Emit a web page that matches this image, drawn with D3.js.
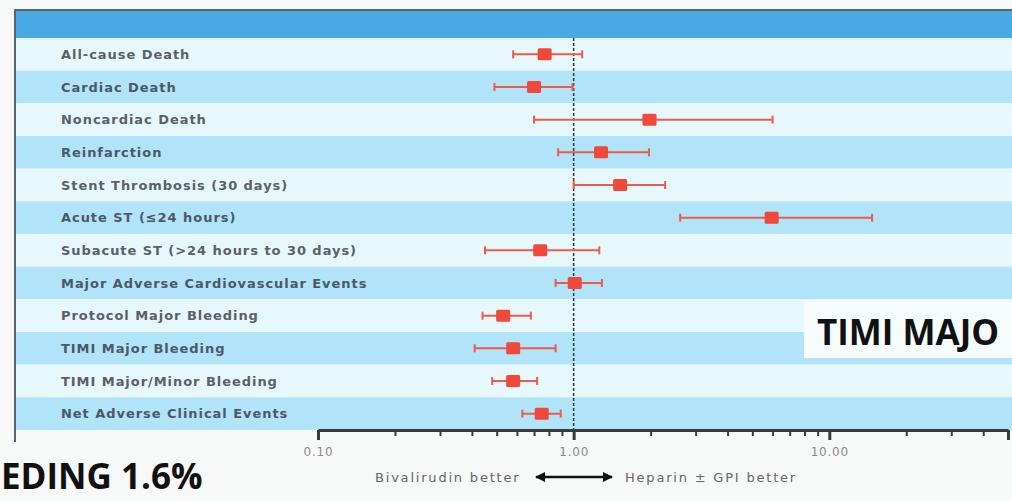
<!DOCTYPE html>
<html>
<head>
<meta charset="utf-8">
<script src="https://cdn.jsdelivr.net/npm/d3@7"></script>
<style>
  body { margin: 0; background: #f7f8f8; }
  svg { display: block; }
</style>
</head>
<body>
<div id="chart"></div>
<script>
// forest plot data (hazard ratio, 95% CI)
var categories = [
    "All-cause Death",
    "Cardiac Death",
    "Noncardiac Death",
    "Reinfarction",
    "Stent Thrombosis (30 days)",
    "Acute ST (\u226424 hours)",
    "Subacute ST (>24 hours to 30 days)",
    "Major Adverse Cardiovascular Events",
    "Protocol Major Bleeding",
    "TIMI Major Bleeding",
    "TIMI Major/Minor Bleeding",
    "Net Adverse Clinical Events"
];
var ratio = [0.77, 0.70, 1.98, 1.28, 1.52, 5.95, 0.74, 1.01, 0.53, 0.58, 0.58, 0.75];
var lower = [0.58, 0.49, 0.70, 0.87, 1.00, 2.61, 0.45, 0.85, 0.44, 0.41, 0.48, 0.63];
var upper = [1.08, 0.99, 6.00, 1.97, 2.28, 14.7, 1.26, 1.29, 0.68, 0.85, 0.72, 0.89];
var tickValues = [0.1, 0.2, 0.3, 0.4, 0.5, 0.6, 0.7, 0.8, 0.9, 1, 2, 3, 4, 5, 6, 7, 8, 9, 10, 20, 30, 40, 50];
var majorTicks = [0.1, 1, 10, 50];
var tickLabels = { 0.1: "0.10", 1: "1.00", 10: "10.00" };

var rows = categories.map(function (c, i) {
    return { key: c, ratio: ratio[i], lower: lower[i], upper: upper[i], i: i };
});

var width = 1012, height = 501;
var svg = d3.select("#chart").append("svg")
    .attr("width", width)
    .attr("height", height);

var x = d3.scaleLog().domain([0.1, 50]).range([318, 1008]);
var y = d3.scaleBand().domain(categories).range([38, 430]).padding(0);

// panel background + header
svg.append("rect")
    .attr("x", 15).attr("y", 10).attr("width", width - 15).attr("height", 28)
    .attr("fill", "#48a9e4");

svg.selectAll(".row")
    .data(rows)
    .enter().append("rect")
    .attr("class", "row")
    .attr("x", 15)
    .attr("y", function (d) { return y(d.key); })
    .attr("width", width - 15)
    .attr("height", y.bandwidth())
    .attr("fill", function (d) { return d.i % 2 === 0 ? "#e7f8fc" : "#b1e4f8"; });

// panel borders
svg.append("line")
    .attr("x1", 14).attr("x2", width).attr("y1", 10).attr("y2", 10)
    .attr("stroke", "#5a646c").attr("stroke-width", 2);
svg.append("line")
    .attr("x1", 15).attr("x2", 15).attr("y1", 10).attr("y2", 442)
    .attr("stroke", "#5a646c").attr("stroke-width", 2);

// labels
svg.selectAll(".label")
    .data(rows)
    .enter().append("text")
    .attr("class", "label")
    .attr("x", 61)
    .attr("y", function (d) { return y(d.key) + y.bandwidth() / 2; })
    .attr("dy", "0.35em")
    .style("font-family", "DejaVu Sans")
    .style("font-weight", "bold")
    .style("font-size", "13px")
    .style("letter-spacing", "0.95px")
    .attr("fill", function (d) { return d.i % 2 === 0 ? "#5b6066" : "#4b5866"; })
    .text(function (d) { return d.key; });

// reference line at 1
svg.append("line")
    .attr("x1", x(1)).attr("x2", x(1))
    .attr("y1", 38).attr("y2", 430)
    .attr("stroke", "#2d3a44").attr("stroke-width", 1.5)
    .attr("stroke-dasharray", "3,2");

// x axis
var axis = svg.append("g")
    .attr("class", "axis")
    .attr("transform", "translate(0,430)")
    .call(d3.axisBottom(x)
        .tickValues(tickValues)
        .tickSize(7)
        .tickSizeOuter(0)
        .tickFormat(function (d) { return tickLabels[d] || ""; }));
axis.select(".domain").attr("stroke", "#3a3a3a").attr("stroke-width", 3);
axis.selectAll(".tick line")
    .attr("stroke", "#3a3a3a")
    .attr("stroke-width", function (d) { return majorTicks.indexOf(d) >= 0 ? 3 : 2; })
    .attr("y2", function (d) { return majorTicks.indexOf(d) >= 0 ? 10 : 6; });
axis.selectAll(".tick text")
    .attr("y", 17)
    .style("font-family", "DejaVu Sans")
    .style("font-size", "12px")
    .style("letter-spacing", "0.8px")
    .attr("fill", "#8a8a8a");

// confidence intervals
var g = svg.append("g").attr("class", "marks");
g.selectAll(".ci")
    .data(rows)
    .enter().append("line")
    .attr("class", "ci")
    .attr("x1", function (d) { return x(d.lower); })
    .attr("x2", function (d) { return x(d.upper); })
    .attr("y1", function (d) { return y(d.key) + y.bandwidth() / 2; })
    .attr("y2", function (d) { return y(d.key) + y.bandwidth() / 2; })
    .attr("stroke", "#ee5a4c").attr("stroke-width", 2);

["lower", "upper"].forEach(function (k) {
    g.selectAll(".cap-" + k)
        .data(rows)
        .enter().append("line")
        .attr("class", "cap-" + k)
        .attr("x1", function (d) { return x(d[k]); })
        .attr("x2", function (d) { return x(d[k]); })
        .attr("y1", function (d) { return y(d.key) + y.bandwidth() / 2 - 4; })
        .attr("y2", function (d) { return y(d.key) + y.bandwidth() / 2 + 4; })
        .attr("stroke", "#ee5a4c").attr("stroke-width", 2);
});

g.selectAll(".pt")
    .data(rows)
    .enter().append("rect")
    .attr("class", "pt")
    .attr("x", function (d) { return x(d.ratio) - 7; })
    .attr("y", function (d) { return y(d.key) + y.bandwidth() / 2 - 6; })
    .attr("width", 14).attr("height", 12)
    .attr("rx", 1.5)
    .attr("fill", "#f0483a");

// bottom caption
var cap = svg.append("g")
    .style("font-family", "DejaVu Sans").style("font-size", "13px")
    .style("letter-spacing", "1.8px").attr("fill", "#666");
cap.append("text").attr("x", 375).attr("y", 482).text("Bivalirudin better");
cap.append("text").attr("x", 625).attr("y", 482).text("Heparin \u00b1 GPI better");
svg.append("defs").append("marker")
    .attr("id", "arr").attr("viewBox", "0 0 10 10").attr("refX", 9).attr("refY", 5)
    .attr("markerWidth", 4).attr("markerHeight", 4).attr("orient", "auto-start-reverse")
    .append("path").attr("d", "M0,0L10,5L0,10z").attr("fill", "#111");
svg.append("line")
    .attr("x1", 536).attr("x2", 612).attr("y1", 477).attr("y2", 477)
    .attr("stroke", "#111").attr("stroke-width", 2.5)
    .attr("marker-start", "url(#arr)").attr("marker-end", "url(#arr)");

// slide overlays (partially visible titles)
svg.append("rect")
    .attr("x", 804).attr("y", 300).attr("width", width - 804).attr("height", 58)
    .attr("fill", "#f6fcfe");
svg.append("text")
    .attr("x", 817).attr("y", 345)
    .style("font-family", "Open Sans").style("font-weight", "bold").style("font-size", "35px")
    .attr("fill", "#111")
    .text("TIMI MAJO");
svg.append("text")
    .attr("x", 1).attr("y", 489)
    .style("font-family", "Open Sans").style("font-weight", "bold").style("font-size", "35px")
    .attr("fill", "#111")
    .text("EDING 1.6%");
</script>
</body>
</html>
